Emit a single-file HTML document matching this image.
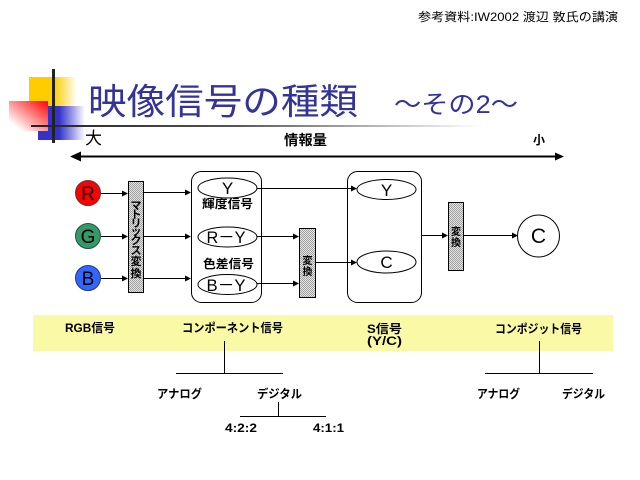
<!DOCTYPE html>
<html><head><meta charset="utf-8"><style>
html,body{margin:0;padding:0;background:#fff;}
svg{display:block;}
text{font-family:"Liberation Sans","Noto Sans CJK JP",sans-serif;}
</style></head><body>
<svg width="640" height="480" viewBox="0 0 640 480" xmlns="http://www.w3.org/2000/svg">
<defs>
<linearGradient id="gy" x1="0" y1="0" x2="1" y2="0"><stop offset="0" stop-color="#FFCC00"/><stop offset="0.52" stop-color="#FFCC00"/><stop offset="1" stop-color="#FFFFFF"/></linearGradient>
<linearGradient id="gb" x1="0" y1="0" x2="1" y2="0"><stop offset="0" stop-color="#3333CC"/><stop offset="0.45" stop-color="#3333CC"/><stop offset="1" stop-color="#FFFFFF"/></linearGradient>
<linearGradient id="gr" x1="1" y1="0" x2="0" y2="1"><stop offset="0" stop-color="#FF0000"/><stop offset="0.85" stop-color="#FFFFFF"/></linearGradient>
<linearGradient id="gl" x1="0" y1="0" x2="1" y2="0"><stop offset="0" stop-color="#222"/><stop offset="0.45" stop-color="#555"/><stop offset="1" stop-color="#FFFFFF"/></linearGradient>
<pattern id="ph" width="2" height="2" patternUnits="userSpaceOnUse"><rect width="2" height="2" fill="#E4E4E4"/><rect width="1" height="1" fill="#A0A0A0"/><rect x="1" y="1" width="1" height="1" fill="#A0A0A0"/></pattern>
</defs>

<!-- header -->
<text x="418" y="21" font-size="12" textLength="200" lengthAdjust="spacingAndGlyphs" fill="#000">参考資料:IW2002  渡辺  敦氏の講演</text>

<!-- logo -->
<rect x="29" y="77" width="48" height="29" fill="url(#gy)"/>
<rect x="38" y="106" width="47" height="34" fill="url(#gb)"/>
<rect x="9" y="101" width="39" height="30" fill="url(#gr)"/>
<rect x="31" y="125" width="450" height="2" fill="url(#gl)"/>
<rect x="52" y="69" width="3" height="74" fill="#222"/>

<!-- title -->
<text x="88" y="114" font-size="36" fill="#333399" textLength="270" lengthAdjust="spacingAndGlyphs">映像信号の種類</text>
<text x="394" y="113" font-size="25" fill="#333399" textLength="124" lengthAdjust="spacingAndGlyphs">～その2～</text>

<!-- info scale -->
<text x="85" y="144" font-size="17" fill="#000" textLength="17" lengthAdjust="spacingAndGlyphs">大</text>
<text x="284" y="145" font-size="14" font-weight="bold" fill="#000" textLength="43" lengthAdjust="spacingAndGlyphs">情報量</text>
<text x="533" y="144" font-size="12" font-weight="bold" fill="#000">小</text>
<line x1="78" y1="156.5" x2="556" y2="156.5" stroke="#000" stroke-width="2"/>
<polygon points="70,156.5 81,151.5 81,161.5" fill="#000"/>
<polygon points="564,156.5 555,152.5 555,160.5" fill="#000"/>

<!-- RGB circles -->
<circle cx="88" cy="193" r="12.5" fill="#FF0000" stroke="#663333" stroke-width="1"/>
<circle cx="88" cy="236" r="12.5" fill="#339966" stroke="#225544" stroke-width="1"/>
<circle cx="88" cy="278" r="12.5" fill="#3366FF" stroke="#223388" stroke-width="1"/>
<text x="88" y="200" font-size="19" text-anchor="middle" fill="#000">R</text>
<text x="88" y="243" font-size="19" text-anchor="middle" fill="#000">G</text>
<text x="88" y="285" font-size="19" text-anchor="middle" fill="#000">B</text>

<g stroke="#000" stroke-width="1">
<line x1="101" y1="193.5" x2="124" y2="193.5"/>
<line x1="101" y1="236.5" x2="124" y2="236.5"/>
<line x1="101" y1="278.5" x2="124" y2="278.5"/>
<line x1="144" y1="192.5" x2="186" y2="192.5"/>
<line x1="144" y1="236.5" x2="186" y2="236.5"/>
<line x1="144" y1="278.5" x2="186" y2="278.5"/>
<line x1="257" y1="188.5" x2="352" y2="188.5"/>
<line x1="257" y1="236.5" x2="294" y2="236.5"/>
<line x1="257" y1="283.5" x2="294" y2="283.5"/>
<line x1="316" y1="262.5" x2="352" y2="262.5"/>
<line x1="422" y1="235.5" x2="443" y2="235.5"/>
<line x1="464" y1="235.5" x2="513" y2="235.5"/>
</g>
<g fill="#000">
<polygon points="128,193.5 122,190.5 122,196.5"/>
<polygon points="128,236.5 122,233.5 122,239.5"/>
<polygon points="128,278.5 122,275.5 122,281.5"/>
<polygon points="191,192.5 185,189.5 185,195.5"/>
<polygon points="191,236.5 185,233.5 185,239.5"/>
<polygon points="191,278.5 185,275.5 185,281.5"/>
<polygon points="357,188.5 351,185.5 351,191.5"/>
<polygon points="299,236.5 293,233.5 293,239.5"/>
<polygon points="299,283.5 293,280.5 293,286.5"/>
<polygon points="357,262.5 351,259.5 351,265.5"/>
<polygon points="448,235.5 442,232.5 442,238.5"/>
<polygon points="518,235.5 512,232.5 512,238.5"/>
</g>

<!-- matrix box -->
<rect x="128.5" y="181.5" width="15" height="111" fill="url(#ph)" stroke="#000"/>
<g font-size="11" font-weight="bold" text-anchor="middle" fill="#000">
<text x="136" y="209">マ</text>
<text x="136" y="218">ト</text>
<text x="136" y="227">リ</text>
<text x="136" y="235">ッ</text>
<text x="136" y="244">ク</text>
<text x="136" y="254">ス</text>
<text x="136" y="265">変</text>
<text x="136" y="277">換</text>
</g>

<!-- component group -->
<rect x="191.5" y="171.5" width="70" height="131" rx="10" ry="10" fill="none" stroke="#000"/>
<ellipse cx="227.5" cy="188" rx="29.5" ry="10" fill="#fff" stroke="#000"/>
<ellipse cx="227.5" cy="237" rx="29.5" ry="10" fill="#fff" stroke="#000"/>
<ellipse cx="227.5" cy="284.5" rx="29.5" ry="10" fill="#fff" stroke="#000"/>
<text x="227.5" y="194" font-size="17" text-anchor="middle" fill="#000">Y</text>
<text x="226" y="243" font-size="17" text-anchor="middle" fill="#000" textLength="39" lengthAdjust="spacingAndGlyphs">R－Y</text>
<text x="226" y="291" font-size="17" text-anchor="middle" fill="#000" textLength="39" lengthAdjust="spacingAndGlyphs">B－Y</text>
<text x="202" y="208" font-size="12" font-weight="bold" fill="#000" textLength="51" lengthAdjust="spacingAndGlyphs">輝度信号</text>
<text x="203" y="268" font-size="12" font-weight="bold" fill="#000" textLength="51" lengthAdjust="spacingAndGlyphs">色差信号</text>

<!-- convert box 1 -->
<rect x="299.5" y="228.5" width="16" height="69" fill="url(#ph)" stroke="#000"/>
<text x="307.5" y="264" font-size="10" font-weight="bold" text-anchor="middle" fill="#000">変</text>
<text x="307.5" y="275" font-size="10" font-weight="bold" text-anchor="middle" fill="#000">換</text>

<!-- S group -->
<rect x="347.5" y="171.5" width="74" height="131" rx="10" ry="10" fill="none" stroke="#000"/>
<ellipse cx="386.5" cy="189.5" rx="29.5" ry="10" fill="#fff" stroke="#000"/>
<ellipse cx="386.5" cy="262" rx="29.5" ry="11" fill="#fff" stroke="#000"/>
<text x="386.5" y="196" font-size="17" text-anchor="middle" fill="#000">Y</text>
<text x="386.5" y="268" font-size="17" text-anchor="middle" fill="#000">C</text>

<!-- convert box 2 -->
<rect x="448.5" y="202.5" width="15" height="68" fill="url(#ph)" stroke="#000"/>
<text x="456" y="235" font-size="10" font-weight="bold" text-anchor="middle" fill="#000">変</text>
<text x="456" y="246" font-size="10" font-weight="bold" text-anchor="middle" fill="#000">換</text>

<!-- composite C -->
<circle cx="538.5" cy="236" r="21" fill="#fff" stroke="#000"/>
<text x="538.5" y="243" font-size="21" text-anchor="middle" fill="#000">C</text>

<!-- yellow band -->
<rect x="33" y="315" width="580" height="36" fill="#FAFAA6"/>
<g font-size="12" font-weight="bold" fill="#000">
<text x="65" y="332" textLength="50" lengthAdjust="spacingAndGlyphs">RGB信号</text>
<text x="182" y="332" textLength="101" lengthAdjust="spacingAndGlyphs">コンポーネント信号</text>
<text x="367" y="333" textLength="35" lengthAdjust="spacingAndGlyphs">S信号</text>
<text x="367" y="345" textLength="35" lengthAdjust="spacingAndGlyphs">(Y/C)</text>
<text x="495" y="333" textLength="87" lengthAdjust="spacingAndGlyphs">コンポジット信号</text>
<text x="157" y="398" textLength="45" lengthAdjust="spacingAndGlyphs">アナログ</text>
<text x="257" y="398" textLength="45" lengthAdjust="spacingAndGlyphs">デジタル</text>
<text x="225" y="432" textLength="32" lengthAdjust="spacingAndGlyphs">4:2:2</text>
<text x="313" y="432" textLength="31" lengthAdjust="spacingAndGlyphs">4:1:1</text>
<text x="477" y="398" textLength="43" lengthAdjust="spacingAndGlyphs">アナログ</text>
<text x="562" y="398" textLength="43" lengthAdjust="spacingAndGlyphs">デジタル</text>
</g>
<g stroke="#000" stroke-width="1">
<line x1="224.5" y1="341" x2="224.5" y2="373"/>
<line x1="176" y1="373.5" x2="283" y2="373.5"/>
<line x1="278.5" y1="402" x2="278.5" y2="417"/>
<line x1="240" y1="416.5" x2="326" y2="416.5"/>
<line x1="539.5" y1="341" x2="539.5" y2="373"/>
<line x1="485" y1="373.5" x2="593" y2="373.5"/>
</g>
</svg>
</body></html>
